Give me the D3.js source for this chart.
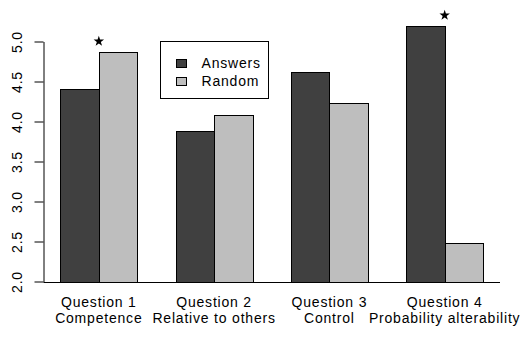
<!DOCTYPE html>
<html>
<head>
<meta charset="utf-8">
<script src="https://cdn.jsdelivr.net/npm/d3@7"></script>
<style>
  html, body { margin: 0; padding: 0; background: #fff; }
  svg { display: block; font-family: "Liberation Sans", Arial, sans-serif; letter-spacing: 0.8px; }
</style>
</head>
<body>
<svg id="chart" width="530" height="338"></svg>
<script>
// ---- data ----
const questions = ["Question 1", "Question 2", "Question 3", "Question 4"];
const subtitles = ["Competence", "Relative to others", "Control", "Probability alterability"];
const seriesNames = ["Answers", "Random"];
const answers = [4.40, 3.88, 4.615, 5.19];
const random  = [4.865, 4.08, 4.23, 2.48];
const significant = [true, false, false, true];
const yTicks = [2.0, 2.5, 3.0, 3.5, 4.0, 4.5, 5.0];
const colors = ["#404040", "#bebebe"];

const svg = d3.select("#chart");
const font = 14;
const fam = "Liberation Sans, Arial, sans-serif";

// x in "bar width units": each group = 1 space + 2 bars
const x = d3.scaleLinear().domain([0.56, 12.44]).range([43.5, 500]);
const y = d3.scaleLinear().domain([2, 5]).range([281.5, 41.5]);

const series = [answers, random];
const bars = [];
questions.forEach((q, i) => {
  series.forEach((s, j) => {
    bars.push({ g: i, s: j, v: s[i] });
  });
});

svg.append("g").selectAll("rect").data(bars).join("rect")
  .attr("x", d => Math.round(x(3 * d.g + 1 + d.s)) + 0.5)
  .attr("width", d => Math.round(x(3 * d.g + 2 + d.s)) - Math.round(x(3 * d.g + 1 + d.s)))
  .attr("y", d => Math.round(y(d.v)) + 0.5)
  .attr("height", d => Math.round(y(2)) - Math.round(y(d.v)))
  .attr("fill", d => colors[d.s])
  .attr("stroke", "#000")
  .attr("stroke-width", 1);

// baseline
svg.append("line")
  .attr("x1", x(0.56)).attr("x2", x(12.44))
  .attr("y1", Math.round(y(2)) + 0.5).attr("y2", Math.round(y(2)) + 0.5)
  .attr("stroke", "#000").attr("stroke-width", 1);

// y axis
const yAxis = d3.axisLeft(y).tickValues(yTicks).tickFormat(d3.format(".1f")).tickSize(9).tickSizeOuter(0);
const ga = svg.append("g").attr("transform", `translate(43.5,0)`).call(yAxis);
ga.select(".domain").attr("stroke", "#000");
ga.selectAll(".tick line").attr("stroke", "#000");
ga.selectAll(".tick text")
  .attr("x", 0).attr("dy", null)
  .attr("font-size", font)
  .attr("font-family", fam)
  .attr("fill", "#000")
  .attr("text-anchor", "middle")
  .attr("transform", "translate(-21.5,0) rotate(-90)");

// x labels
const xl = svg.append("g");
questions.forEach((q, i) => {
  const cx = x(3 * i + 2);
  xl.append("text").attr("x", cx).attr("y", 306.5)
    .attr("text-anchor", "middle").attr("font-size", font).text(q);
  xl.append("text").attr("x", cx).attr("y", 322.5)
    .attr("text-anchor", "middle").attr("font-size", font).text(subtitles[i]);
});

// significance stars
const star = d3.symbol().type(d3.symbolStar).size(34);
svg.append("g").selectAll("path")
  .data(questions.map((q, i) => ({ i, m: Math.max(answers[i], random[i]), sig: significant[i] })).filter(d => d.sig))
  .join("path")
  .attr("d", star)
  .attr("fill", "#000")
  .attr("transform", d => `translate(${x(3 * d.i + 2)},${y(d.m) - 11})`);

// legend
const lg = svg.append("g");
lg.append("rect").attr("x", 160.5).attr("y", 41.5).attr("width", 108).attr("height", 57)
  .attr("fill", "#fff").attr("stroke", "#000");
seriesNames.forEach((n, j) => {
  const yy = 58.5 + j * 18.5;
  lg.append("rect").attr("x", 176.5).attr("y", Math.round(yy) + 0.5).attr("width", 10).attr("height", 8)
    .attr("fill", colors[j]).attr("stroke", "#000");
  lg.append("text").attr("x", 201.5).attr("y", Math.round(yy) + 8.5)
    .attr("font-size", font).text(n);
});
</script>
</body>
</html>
